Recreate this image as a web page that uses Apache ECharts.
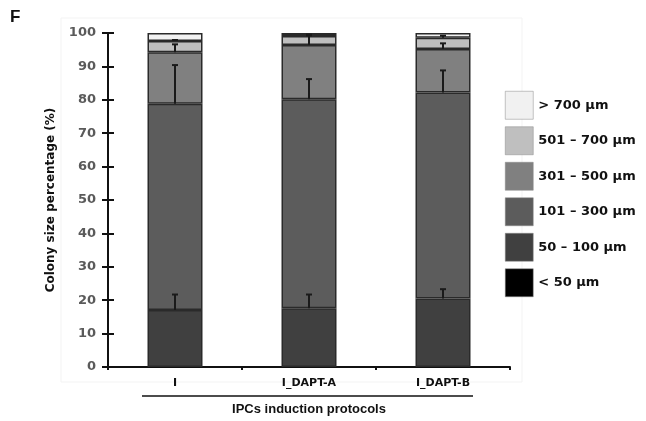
<!DOCTYPE html>
<html><head><meta charset="utf-8">
<script src="https://cdn.jsdelivr.net/npm/echarts@6/dist/echarts.min.js"></script>
<style>html,body{margin:0;padding:0;background:#fff}#c{width:646px;height:421px}</style>
</head><body><div id="c"></div>
<script>
const categories = ['I', 'I_DAPT-A', 'I_DAPT-B'];
const seriesNames = ['< 50 µm', '50 – 100 µm', '101 – 300 µm', '301 – 500 µm', '501 – 700 µm', '> 700 µm'];
const lt50   = [0, 0, 0];
const s50    = [17.1, 17.6, 20.5];
const s101   = [61.7, 62.6, 61.7];
const s301   = [15.4, 16.2, 13.0];
const s501   = [3.4, 2.7, 3.4];
const s700   = [2.4, 0.9, 1.4];
const err50  = [4.6, 4.1, 2.8];
const err101 = [11.6, 6.0, 6.6];
const err301 = [2.4, 2.9, 1.7];
const err501 = [0.3, 0.4, 0.6];
const yTicks = [0, 10, 20, 30, 40, 50, 60, 70, 80, 90, 100];

const colors = ['#000000', '#404040', '#5c5c5c', '#808080', '#bfbfbf', '#f1f1f1'];
const values = [lt50, s50, s101, s301, s501, s700];
const errs = [null, err50, err101, err301, err501, null];
const FONT_W = 'DejaVu Sans, Verdana, sans-serif';
const FONT_N = 'Liberation Sans, Arial, sans-serif';

const chart = echarts.init(document.getElementById('c'));
const series = values.map((v, i) => ({
  name: seriesNames[i], type: 'bar', stack: 'tot', data: v, barWidth: 55,
  itemStyle: { color: colors[i], borderColor: '#2a2a2a', borderWidth: i === 0 ? 0 : 1.5 },
  emphasis: { disabled: true }
}));
// error bars
const errData = [];
for (let c = 0; c < categories.length; c++) {
  let cum = 0;
  for (let i = 0; i < values.length; i++) {
    cum += values[i][c];
    if (errs[i]) errData.push([c, cum, cum + errs[i][c]]);
  }
}
series.push({
  type: 'custom', data: errData, z: 10, silent: true,
  renderItem: function (params, api) {
    const b = api.coord([api.value(0), api.value(1)]);
    const t = api.coord([api.value(0), api.value(2)]);
    return { type: 'group', children: [
      { type: 'line', shape: { x1: b[0], y1: b[1], x2: t[0], y2: t[1] }, style: { stroke: '#1a1a1a', lineWidth: 2 } },
      { type: 'line', shape: { x1: t[0] - 3, y1: t[1], x2: t[0] + 3, y2: t[1] }, style: { stroke: '#1a1a1a', lineWidth: 2 } }
    ]};
  }
});

chart.setOption({
  animation: false,
  backgroundColor: '#ffffff',
  grid: { left: 108, right: 136, top: 33, bottom: 53, containLabel: false },
  legend: {
    orient: 'vertical', left: 500, top: 86, itemWidth: 28, itemHeight: 28, itemGap: 7,
    icon: 'rect',
    data: seriesNames.slice().reverse(),
    textStyle: { fontFamily: FONT_W, fontWeight: 'bold', fontSize: 13, color: '#111' },
    itemStyle: { borderColor: '#888', borderWidth: 0.5 },
    selectedMode: false
  },
  xAxis: {
    type: 'category', data: categories,
    axisLine: { lineStyle: { color: '#111', width: 2 } },
    axisTick: { show: true, alignWithLabel: false, length: 3, lineStyle: { color: '#111', width: 2 } },
    axisLabel: { margin: 11, fontFamily: FONT_W, fontWeight: 'bold', fontSize: 11, color: '#111' },
    name: 'IPCs induction protocols', nameLocation: 'middle', nameGap: 36,
    nameTextStyle: { fontFamily: FONT_N, fontWeight: 'bold', fontSize: 13, color: '#111' }
  },
  yAxis: [{
    type: 'value', min: 0, max: 100, interval: 10,
    axisLine: { show: true, lineStyle: { color: '#111', width: 2 } },
    axisTick: { show: true, length: 6, lineStyle: { color: '#111', width: 2 } },
    splitLine: { show: false },
    axisLabel: { margin: 12, fontFamily: FONT_W, fontWeight: 'bold', fontSize: 13, color: '#5a5a5a',
      formatter: v => yTicks.includes(v) ? String(v) : '' },
    name: 'Colony size percentage (%)', nameLocation: 'middle', nameGap: 51,
    nameTextStyle: { fontFamily: FONT_W, fontWeight: 'bold', fontSize: 12, color: '#111' }
  }, {
    type: 'value', min: 0, max: 100, interval: 10, position: 'left', offset: 0,
    axisLine: { show: false },
    axisTick: { show: true, inside: true, length: 6, lineStyle: { color: '#111', width: 2 } },
    axisLabel: { show: false }, splitLine: { show: false }
  }],
  graphic: [
    { type: 'text', left: 10, top: 9, style: { text: 'F', font: 'bold 17px Liberation Sans, Arial', fill: '#111' } },
    { type: 'rect', shape: { x: 61, y: 18, width: 461, height: 364 }, style: { fill: 'none', stroke: '#f3f3f3', lineWidth: 1 }, z: -1 },
    { type: 'line', shape: { x1: 142, y1: 396, x2: 473, y2: 396 }, style: { stroke: '#111', lineWidth: 1.5 } }
  ],
  series: series
});
</script></body></html>
